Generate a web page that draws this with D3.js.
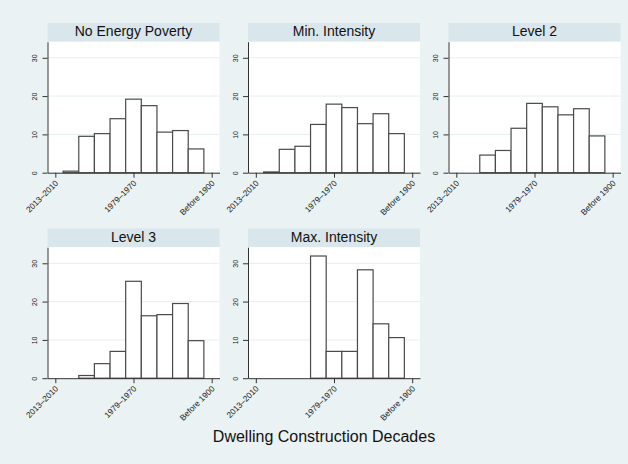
<!DOCTYPE html>
<html>
<head>
<meta charset="utf-8">
<script src="https://cdn.jsdelivr.net/npm/d3@7"></script>
<style>
  body { margin: 0; background: #eaf2f3; }
  svg { display: block; font-family: "Liberation Sans", Arial, sans-serif; }
</style>
</head>
<body>
<svg id="chart" width="628" height="464"></svg>
<script>
// Share of dwellings (%) by construction decade, one panel per energy-poverty group.
const decadeIndex = [0, 1, 2, 3, 4, 5, 6, 7, 8, 9, 10];
const panelTitles = ["No Energy Poverty", "Min. Intensity", "Level 2", "Level 3", "Max. Intensity"];
const noEnergyPoverty = [0, 0.4, 9.5, 10.2, 14.1, 19.2, 17.5, 10.6, 11.0, 6.2, 0];
const minIntensity    = [0, 0.2, 6.1, 6.9, 12.6, 17.9, 17.0, 12.8, 15.4, 10.2, 0];
const level2          = [0, 0, 4.6, 5.8, 11.6, 18.1, 17.2, 15.1, 16.7, 9.6, 0];
const level3          = [0, 0, 0.7, 3.8, 7.0, 25.3, 16.3, 16.6, 19.5, 9.8, 0];
const maxIntensity    = [0, 0, 0, 0, 31.9, 7.0, 7.0, 28.3, 14.2, 10.6, 0];
const xTickValues = [0, 5, 10];
const xTickLabels = ["2013\u20132010", "1979\u20131970", "Before 1900"];
const yTickValues = [0, 10, 20, 30];
const xTitle = "Dwelling Construction Decades";

const series = [noEnergyPoverty, minIntensity, level2, level3, maxIntensity];

const svg = d3.select("#chart");
svg.append("rect").attr("width", 628).attr("height", 464).attr("fill", "#eaf2f3");

const colLeft = [47.5, 248, 448.5];
const rowTop = [23, 228.5];
const plotW = 172, stripH = 18.7, plotH = 131;

const x = d3.scaleLinear().domain([-0.5, 10.5]).range([0, plotW]);
const y = d3.scaleLinear().domain([0, 34.2]).range([plotH, 0]);

series.forEach((vals, p) => {
  const col = p % 3, row = Math.floor(p / 3);
  const g = svg.append("g").attr("transform", `translate(${colLeft[col]},${rowTop[row]})`);

  // title strip
  g.append("rect").attr("x", 0).attr("y", 0).attr("width", plotW).attr("height", stripH)
    .attr("fill", "#d9e6eb");
  g.append("text").attr("x", plotW / 2).attr("y", 13.3).attr("text-anchor", "middle")
    .attr("font-size", 14).attr("fill", "#111").text(panelTitles[p]);

  const pg = g.append("g").attr("transform", `translate(0,${stripH})`);
  pg.append("rect").attr("width", plotW).attr("height", plotH).attr("fill", "#fff");

  // horizontal grid
  pg.selectAll("line.grid").data(yTickValues.filter(v => v > 0)).join("line")
    .attr("class", "grid")
    .attr("x1", 0).attr("x2", plotW)
    .attr("y1", d => y(d)).attr("y2", d => y(d))
    .attr("stroke", "#e6eef0").attr("stroke-width", 1);

  // bars
  pg.selectAll("rect.bar").data(decadeIndex.filter(i => vals[i] > 0)).join("rect")
    .attr("class", "bar")
    .attr("x", i => x(i - 0.5)).attr("width", i => x(i + 0.5) - x(i - 0.5))
    .attr("y", i => y(vals[i])).attr("height", i => y(0) - y(vals[i]))
    .attr("fill", "#fff").attr("stroke", "#4a4a4a").attr("stroke-width", 1.2);

  // y axis
  const ya = pg.append("g").call(d3.axisLeft(y).tickValues(yTickValues).tickSize(5).tickSizeOuter(0));
  ya.select(".domain").attr("stroke", "#333");
  ya.selectAll(".tick line").attr("stroke", "#333");
  ya.selectAll(".tick text")
    .attr("x", null).attr("dy", null)
    .attr("text-anchor", "middle")
    .attr("transform", "translate(-10.5,0) rotate(-90)")
    .attr("font-size", 7).attr("fill", "#222");

  // x axis
  const xa = pg.append("g").attr("transform", `translate(0,${plotH})`)
    .call(d3.axisBottom(x).tickValues(xTickValues)
      .tickFormat((d, i) => xTickLabels[i]).tickSize(5).tickSizeOuter(0));
  xa.select(".domain").attr("stroke", "#333");
  xa.selectAll(".tick line").attr("stroke", "#333");
  xa.selectAll(".tick text")
    .attr("y", null).attr("dy", null)
    .attr("text-anchor", "end")
    .attr("transform", "translate(3,11) rotate(-45)")
    .attr("font-size", 8.3).attr("fill", "#222");
});

svg.append("text").attr("x", 324).attr("y", 441.5).attr("text-anchor", "middle")
  .attr("font-size", 16).attr("fill", "#111").text(xTitle);
</script>
</body>
</html>
